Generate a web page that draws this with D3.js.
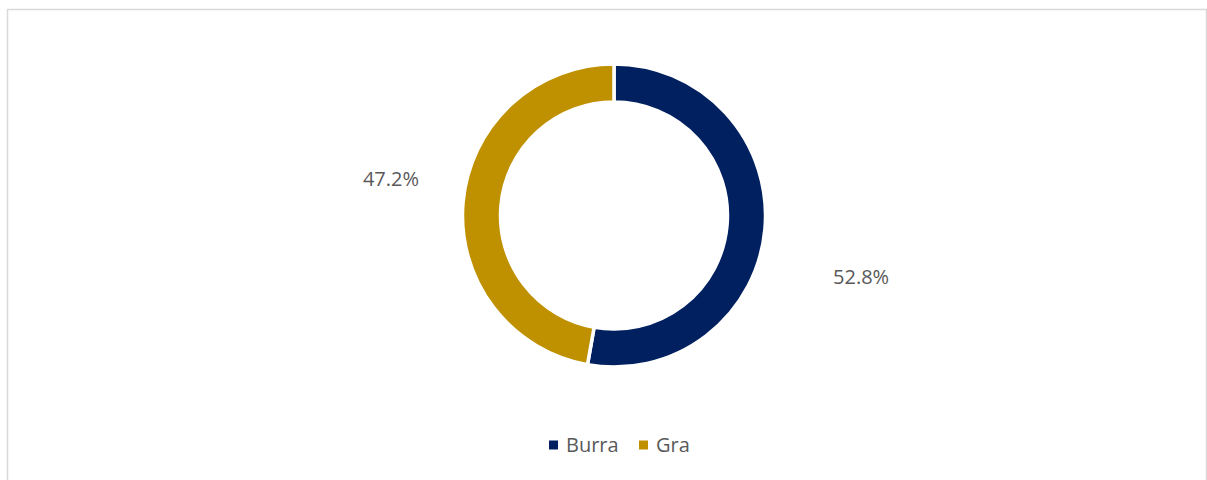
<!DOCTYPE html>
<html>
<head>
<meta charset="utf-8">
<script src="https://cdn.jsdelivr.net/npm/d3@7"></script>
<style>
  body { margin: 0; background: #fff; }
  text { font-family: "Open Sans", "Noto Sans", sans-serif; fill: #595959; }
</style>
</head>
<body>
<svg width="1207" height="480"></svg>
<script>
var categories = ["Burra", "Gra"],
    values = [52.8, 47.2],
    colors = ["#002060", "#bf9000"];

// manual nudges for the data labels (Excel best-fit placement)
var labelNudge = { "Burra": [8, 40], "Gra": [16, -15] };

var svg = d3.select("svg"),
    width = +svg.attr("width"),
    height = +svg.attr("height"),
    cx = 614, cy = 215.5;

// chart area border
svg.append("rect")
    .attr("x", 7.5).attr("y", 9.5)
    .attr("width", 1199).attr("height", 480)
    .attr("fill", "none")
    .attr("stroke", "#d9d9d9")
    .attr("stroke-width", 1.5);

var data = categories.map(function(c, i) {
    return { name: c, value: values[i], color: colors[i] };
});

var pie = d3.pie()
    .sort(null)
    .value(function(d) { return d.value; });

var arc = d3.arc()
    .innerRadius(113.5)
    .outerRadius(151.5);

var labelArc = d3.arc()
    .innerRadius(240)
    .outerRadius(240);

var g = svg.append("g")
    .attr("transform", "translate(" + cx + "," + cy + ")");

var arcs = pie(data);

g.selectAll("path")
    .data(arcs)
  .enter().append("path")
    .attr("d", arc)
    .attr("fill", function(d) { return d.data.color; })
    .attr("stroke", "#fff")
    .attr("stroke-width", 3.5);

g.selectAll("text.lbl")
    .data(arcs)
  .enter().append("text")
    .attr("class", "lbl")
    .attr("transform", function(d) {
        var c = labelArc.centroid(d), n = labelNudge[d.data.name];
        return "translate(" + (c[0] + n[0]) + "," + (c[1] + n[1]) + ")";
    })
    .attr("text-anchor", "middle")
    .attr("dy", "0.35em")
    .style("font-size", "20px")
    .text(function(d) { return d.data.value.toFixed(1) + "%"; });

// legend
var legend = svg.append("g")
    .attr("transform", "translate(549,445)");

var items = legend.selectAll("g")
    .data(data)
  .enter().append("g")
    .attr("transform", function(d, i) { return "translate(" + (i * 90) + ",0)"; });

items.append("rect")
    .attr("x", 0).attr("y", -4.5)
    .attr("width", 9).attr("height", 9)
    .attr("fill", function(d) { return d.color; });

items.append("text")
    .attr("x", 17)
    .attr("dy", "0.35em")
    .style("font-size", "20px")
    .text(function(d) { return d.name; });
</script>
</body>
</html>
